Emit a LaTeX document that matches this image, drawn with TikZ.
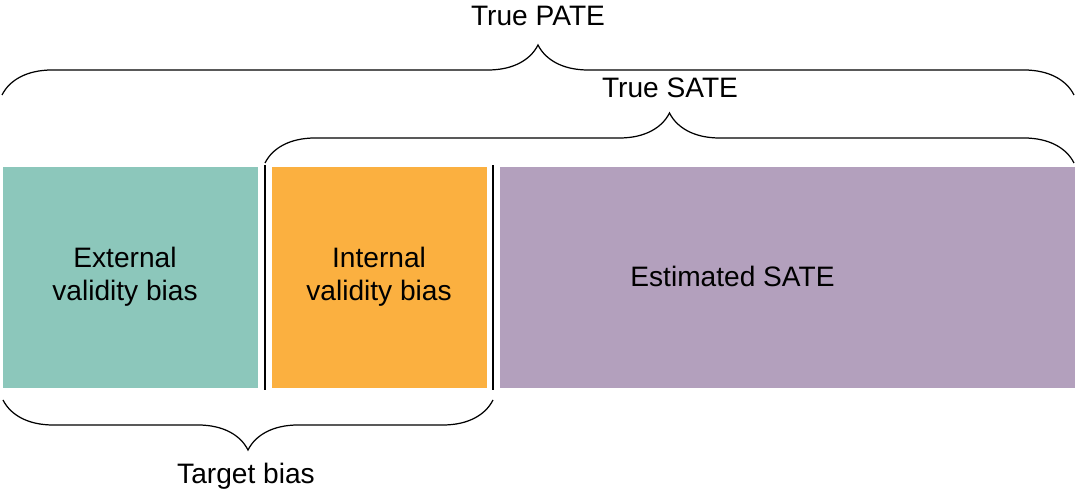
\documentclass[tikz,border=0pt]{standalone}
\usepackage{fontspec}
\setmainfont{Liberation Sans}
\usetikzlibrary{decorations.pathreplacing}
\definecolor{extcol}{RGB}{140,199,187}
\definecolor{intcol}{RGB}{251,176,64}
\definecolor{estcol}{RGB}{179,160,189}
\tikzset{
  part/.style={draw=none, inner sep=0pt, align=center, font=\fontsize{16}{19}\selectfont},
  brc/.style={decorate, decoration={brace, amplitude=1cm, raise=0pt}, line width=0.7pt},
  lbl/.style={font=\fontsize{16}{19}\selectfont}
}
\begin{document}
\begin{tikzpicture}
  \useasboundingbox (0,0) rectangle (21.52,9.88);
  \fill[extcol] (0.06,2.12) rectangle (5.16,6.54);
  \fill[intcol] (5.44,2.12) rectangle (9.74,6.54);
  \fill[estcol] (10.0,2.12) rectangle (21.5,6.54);
  \draw[line width=0.8pt] (5.3,2.08) -- (5.3,6.58);
  \draw[line width=0.8pt] (9.86,2.08) -- (9.86,6.58);
  \node[part] (ext) at (2.5,4.35) {External\\validity bias};
  \node[part] (int) at (7.58,4.35) {Internal\\validity bias};
  \node[part] (est) at (14.65,4.35) {Estimated SATE};
  \coordinate (pl) at (0.04,7.98);
  \coordinate (pr) at (21.48,7.98);
  \coordinate (sl) at (5.3,6.62);
  \coordinate (sr) at (21.48,6.62);
  \coordinate (bl) at (0.06,1.88);
  \coordinate (br) at (9.86,1.88);
  \draw[brc] (pl) -- (pr);
  \draw[brc] (sl) -- (sr);
  \draw[brc] (br) -- (bl);
  \node[lbl] (pate) at (10.76,9.56) {True PATE};
  \node[lbl] (sate) at (13.4,8.12) {True SATE};
  \node[lbl] (tgt) at (4.92,0.36) {Target bias};
\end{tikzpicture}
\end{document}
